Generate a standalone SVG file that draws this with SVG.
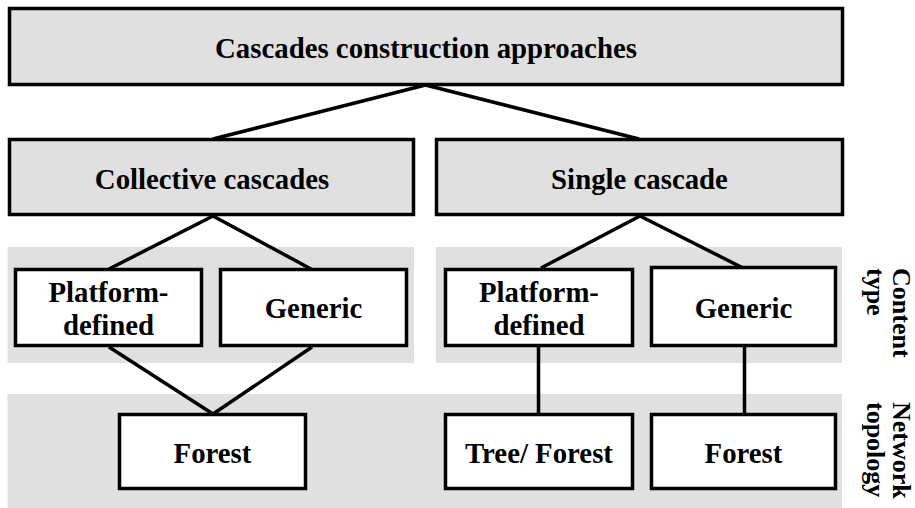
<svg xmlns="http://www.w3.org/2000/svg" width="915" height="508" viewBox="0 0 915 508" font-family="Liberation Serif, Times New Roman, Times, serif" font-weight="bold">
<style>
.band{fill:#e0e0e0;stroke:none}
.gbox{fill:#e0e0e0;stroke:#000;stroke-width:3.5}
.wbox{fill:#fff;stroke:#000;stroke-width:3.5}
.conn line{stroke:#000;stroke-width:3.5;stroke-linecap:butt}
text{font-family:'Liberation Serif','Times New Roman',Times,serif;font-weight:700;font-size:28.8px;fill:#000;text-anchor:middle}
.side{font-size:26px;text-anchor:start}
</style>
<rect width="915" height="508" fill="#fff"/>
<g id="bands">
<rect class="band" x="7.5" y="247" width="406.5" height="116"/>
<rect class="band" x="436" y="247" width="406" height="116"/>
<rect class="band" x="7.5" y="394" width="834.5" height="114"/>
</g>
<g id="connectors" class="conn">
<line x1="425.5" y1="85" x2="213" y2="139"/>
<line x1="425.5" y1="85" x2="639" y2="139"/>
<line x1="213" y1="216" x2="109" y2="269"/>
<line x1="213" y1="216" x2="311" y2="269"/>
<line x1="640" y1="216" x2="541" y2="268"/>
<line x1="640" y1="216" x2="743" y2="268"/>
<line x1="109" y1="347" x2="213" y2="414"/>
<line x1="312" y1="347" x2="213" y2="414"/>
<line x1="538.5" y1="347" x2="538.5" y2="414"/>
<line x1="744.5" y1="347" x2="744.5" y2="414"/>
</g>
<g id="root">
<rect class="gbox" x="9.5" y="8.5" width="833" height="76"/>
<text x="426" y="57.5">Cascades construction approaches</text>
</g>
<g id="collective">
<rect class="gbox" x="9.5" y="139.5" width="404" height="75"/>
<text x="212" y="188.5">Collective cascades</text>
</g>
<g id="single">
<rect class="gbox" x="436.5" y="139.5" width="406" height="75"/>
<text x="639.5" y="188.5">Single cascade</text>
</g>
<g id="pd-left">
<rect class="wbox" x="15.5" y="269.5" width="186" height="76"/>
<text x="108.5" y="302">Platform-</text>
<text x="108.5" y="335">defined</text>
</g>
<g id="gen-left">
<rect class="wbox" x="220.5" y="269.5" width="186" height="76"/>
<text x="313.5" y="318">Generic</text>
</g>
<g id="pd-right">
<rect class="wbox" x="445.5" y="269.5" width="187" height="76"/>
<text x="539" y="302">Platform-</text>
<text x="539" y="335">defined</text>
</g>
<g id="gen-right">
<rect class="wbox" x="651.5" y="267.5" width="184" height="78"/>
<text x="743.5" y="318">Generic</text>
</g>
<g id="forest-left">
<rect class="wbox" x="119.5" y="414.5" width="186" height="74"/>
<text x="212.5" y="463">Forest</text>
</g>
<g id="tree-forest">
<rect class="wbox" x="445.5" y="414.5" width="187" height="74"/>
<text x="539" y="463">Tree/ Forest</text>
</g>
<g id="forest-right">
<rect class="wbox" x="651.5" y="414.5" width="184" height="74"/>
<text x="743.5" y="463">Forest</text>
</g>
<g id="label-content" transform="translate(893,268) rotate(90)">
<text class="side" x="0" y="0">Content</text>
<text class="side" x="0" y="26">type</text>
</g>
<g id="label-network" transform="translate(893,402) rotate(90)">
<text class="side" x="0" y="0">Network</text>
<text class="side" x="0" y="26">topology</text>
</g>
</svg>
